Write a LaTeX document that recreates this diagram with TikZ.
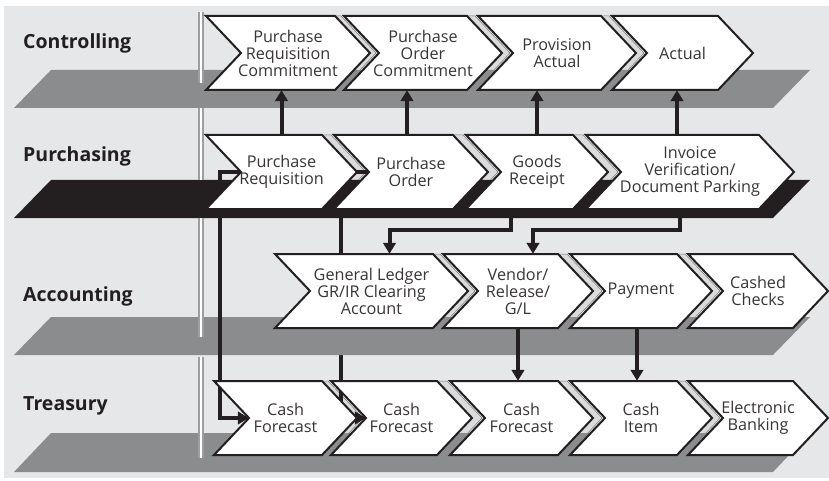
\documentclass[tikz,border=0pt]{standalone}
\usepackage{fontspec}
\setmainfont{Open Sans}
\usetikzlibrary{arrows.meta}

\pgfdeclarelayer{back}
\pgfdeclarelayer{floor}
\pgfsetlayers{back,floor,main}

\definecolor{paper}{HTML}{E6E7E8}
\definecolor{slab}{HTML}{8B8C8E}
\definecolor{ink}{HTML}{231F20}
\definecolor{ghost}{HTML}{DADBDC}

% 流程框：名称，左端x，上沿y，尖端x，文字
\newcommand{\procnode}[5]{%
	\draw[proc] (#2,#3) -- (#4-35,#3) -- (#4,#3+37) -- (#4-35,#3+74)
		-- (#2,#3+74) -- (#2+35,#3+37) -- cycle;
	\node[proctext, minimum width=#4-#2] (#1) at ({(#2+#4)/2},#3+37) {#5};
}
% 框间衬影：左端x，上沿y，尖端x，右移量
\newcommand{\procshade}[4]{%
	\draw[ghostband] (#1+#4,#2) -- (#3-35+#4,#2) -- (#3+#4,#2+37) -- (#3-35+#4,#2+74)
		-- (#1+#4,#2+74) -- (#1+35+#4,#2+37) -- cycle;
}
% 泳道底板：颜色，上沿y，下沿y
\newcommand{\lanefloor}[3]{%
	\fill[#1] (14,#3) -- (51,#2) -- (810,#2) -- (773,#3) -- cycle;
}

\begin{document}
\begin{tikzpicture}[x=1pt,y=-1pt,
		proc/.style={draw=ink, line width=2pt, fill=white},
		proctext/.style={inner sep=0pt, minimum height=74, align=center, text=ink!90,
			font=\fontsize{16.2}{17}\selectfont},
		ghostband/.style={draw=ink!60, line width=0.5pt, fill=ghost},
		lane/.style={anchor=base west, inner sep=0pt, text=ink, font=\fontsize{19.5}{22}\selectfont\bfseries},
		flow/.style={draw=ink, line width=4pt, -{Triangle[length=11pt,width=12.5pt]}},
		divider/.style={draw=black!38, line width=6pt, postaction={draw=white, line width=2.4pt}}]
	\useasboundingbox (0,0) rectangle (829,481);

	% 背景与框间衬影
	\begin{pgfonlayer}{back}
		\fill[paper] (4,6) rectangle (829,478);
		\procshade{206}{16}{370}{6}
		\procshade{344}{16}{502}{8}
		\procshade{478}{16}{636}{8}
		\procshade{206}{135}{357}{9}
		\procshade{334}{135}{488}{10}
		\procshade{466}{135}{608}{10}
		\procshade{275}{254}{468}{7}
		\procshade{443}{254}{593}{9}
		\procshade{570}{254}{712}{8}
		\procshade{214}{381}{357}{6}
		\procshade{331}{381}{472}{10}
		\procshade{450}{381}{593}{9}
		\procshade{570}{381}{712}{8}
	\end{pgfonlayer}

	% 底板与分隔线
	\begin{pgfonlayer}{floor}
		\lanefloor{slab}{70}{108}
		\lanefloor{ink}{180}{218}
		\lanefloor{slab}{317}{355}
		\lanefloor{slab}{433}{472}
		\draw[divider] (201,12) -- (201,83);
		\draw[divider] (201,108) -- (201,180);
		\draw[divider] (201,218) -- (201,337);
		\draw[divider] (201,357) -- (201,458);
	\end{pgfonlayer}

	% 泳道名称
	\node[lane] (ctrl) at (23,49) {Controlling};
	\node[lane] (purch) at (23,161) {Purchasing};
	\node[lane] (acct) at (23,301) {Accounting};
	\node[lane] (treas) at (23,410) {Treasury};

	% Controlling
	\procnode{C1}{206}{16}{370}{Purchase\\Requisition\\Commitment}
	\procnode{C2}{344}{16}{502}{Purchase\\Order\\Commitment}
	\procnode{C3}{478}{16}{636}{Provision\\Actual}
	\procnode{C4}{612}{16}{753}{Actual}

	% Purchasing
	\procnode{P1}{206}{135}{357}{Purchase\\Requisition}
	\procnode{P2}{334}{135}{488}{Purchase\\Order}
	\procnode{P3}{466}{135}{608}{Goods\\Receipt}
	\procnode{P4}{586}{135}{794}{Invoice\\Verification/\\Document Parking}

	% Accounting
	\procnode{A1}{275}{254}{468}{General Ledger\\GR/IR Clearing\\Account}
	\procnode{A2}{443}{254}{593}{Vendor/\\Release/\\G/L}
	\procnode{A3}{570}{254}{712}{Payment}
	\procnode{A4}{688}{254}{828}{Cashed\\Checks}

	% Treasury
	\procnode{T1}{214}{381}{357}{Cash\\Forecast}
	\procnode{T2}{331}{381}{472}{Cash\\Forecast}
	\procnode{T3}{450}{381}{593}{Cash\\Forecast}
	\procnode{T4}{570}{381}{712}{Cash\\Item}
	\procnode{T5}{688}{381}{828}{Electronic\\Banking}

	% 贯穿各泳道的连线
	\begin{pgfonlayer}{back}
		\draw[flow] ([xshift=35pt]P2.west) -- ++(-28,0) |- ([xshift=35pt]T2.west);
	\end{pgfonlayer}
	\begin{pgfonlayer}{floor}
		\draw[flow] ([xshift=35pt]P1.west) -- ++(-21,0) |- ([xshift=35pt]T1.west);
		\draw[flow] ([xshift=-26pt]P3.south) -- ++(0,21) -| ([xshift=18pt]A1.north);
		\draw[flow] ([xshift=-10pt]P4.south) -- ++(0,21) -| ([xshift=15pt]A2.north);
	\end{pgfonlayer}

	% 上下相邻泳道之间的箭头
	\draw[flow] (P1.north) -- (P1.north |- C1.south);
	\draw[flow] ([xshift=-4pt]P2.north) -- ([xshift=-4pt]P2.north |- C2.south);
	\draw[flow] (P3.north) -- (P3.north |- C3.south);
	\draw[flow] ([xshift=-13pt]P4.north) -- ([xshift=-13pt]P4.north |- C4.south);
	\draw[flow] (A2.south) -- (A2.south |- T3.north);
	\draw[flow] ([xshift=-4pt]A3.south) -- ([xshift=-4pt]A3.south |- T4.north);
\end{tikzpicture}
\end{document}
